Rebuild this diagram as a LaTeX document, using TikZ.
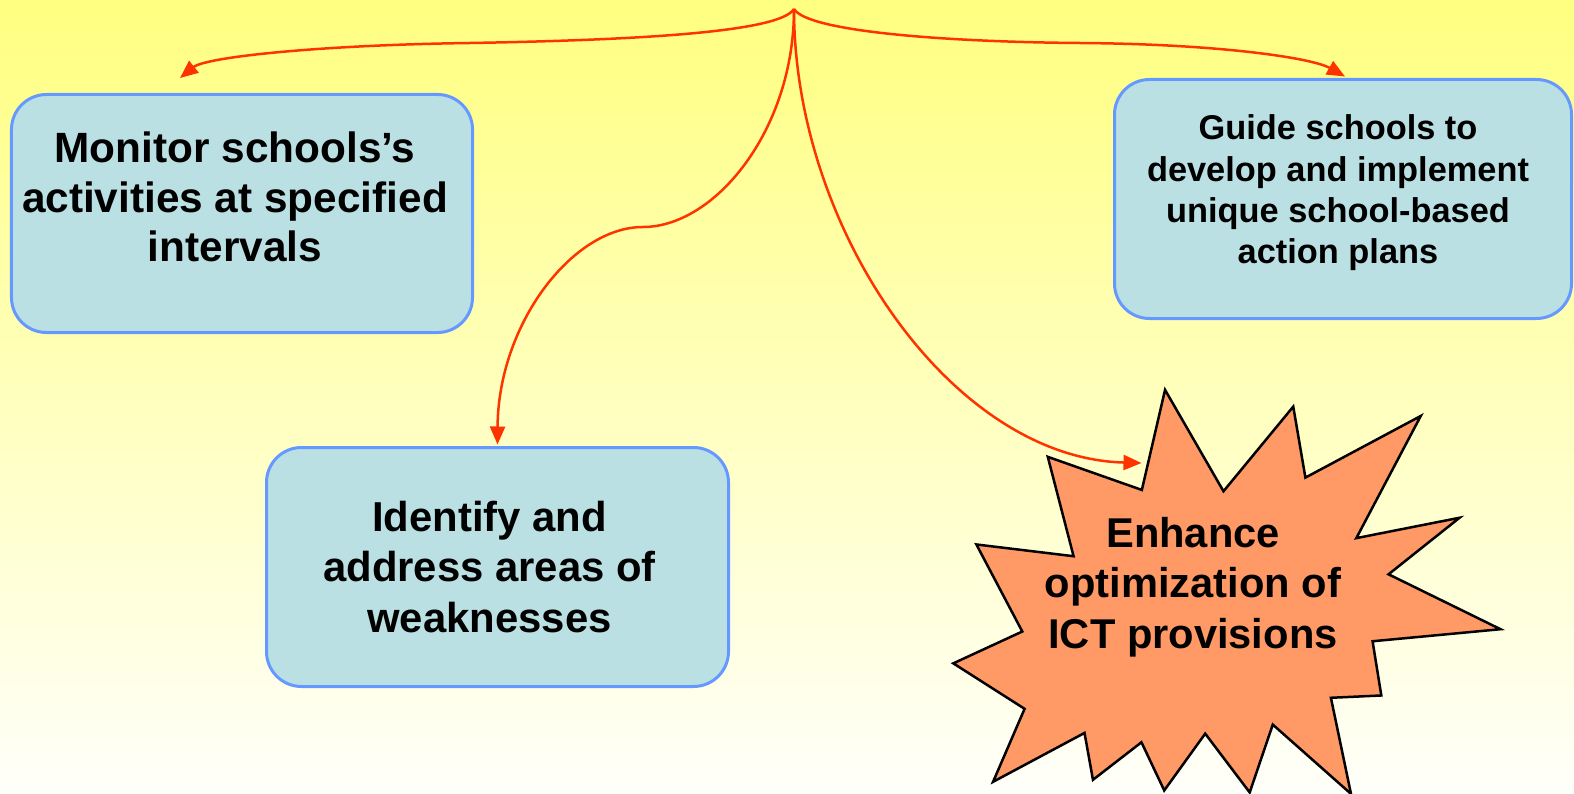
\documentclass[tikz,border=0pt]{standalone}
\usepackage{fontspec}
\setmainfont{Liberation Sans}
\usetikzlibrary{arrows.meta}
\definecolor{boxfill}{RGB}{187,224,227}
\definecolor{boxline}{RGB}{102,153,255}
\definecolor{starfill}{RGB}{255,153,102}
\definecolor{linkred}{RGB}{255,51,0}
\definecolor{bgtop}{RGB}{255,255,128}
\definecolor{bgbot}{RGB}{255,255,250}
\begin{document}
\begin{tikzpicture}[x=1bp,y=-1bp,
  goalbox/.style={draw=boxline, line width=3bp, fill=boxfill, rounded corners=35bp,
                  minimum width=461bp, minimum height=238bp, inner sep=0pt},
  goaltext/.style={align=center, text=black, inner sep=0pt},
  burst/.style={draw=black, line width=2.5bp, fill=starfill, line join=miter},
  link/.style={draw=linkred, line width=2.5bp, -{Triangle[length=18bp,width=15bp]}}]
% background
\useasboundingbox (0,0) rectangle (1574,793);
\fill[top color=bgtop, bottom color=bgbot] (0,0) rectangle (1574,793);

% boxes
\node[goalbox] (b1) at (242,213.5) {};
\node[goalbox, minimum width=457bp, minimum height=239bp] (b2) at (1343,199) {};
\node[goalbox, minimum width=462bp, minimum height=239bp] (b3) at (497.5,567) {};

% star
\begin{scope}[scale=1.004]
\draw[burst] (1160.4,388.3) -- (1218.6,489.3) -- (1288.1,405) -- (1300.2,475.7)
  -- (1415.1,414.3) -- (1350.9,536) -- (1453.7,515.7) -- (1383,572)
  -- (1494.5,626.7) -- (1367.1,638.7) -- (1375.8,692.7) -- (1325.6,695)
  -- (1345.6,790.7) -- (1267.7,721.7) -- (1244.7,789.3) -- (1200.4,730.7)
  -- (1159.6,787.3) -- (1136.9,739.3) -- (1088.6,776.7) -- (1080.2,730)
  -- (989.1,778.7) -- (1020.5,706) -- (949.5,660.7) -- (1018.2,629)
  -- (972.5,542.3) -- (1069.3,554) -- (1043.6,455) -- (1137.3,488) -- cycle;
\end{scope}

% texts
\node[goaltext, font=\fontsize{42.5}{50}\selectfont\bfseries] (t1) at (235,197)
  {Monitor schools’s\\activities at specified\\intervals};
\node[goaltext, font=\fontsize{34.5}{41.5}\selectfont\bfseries] (t2) at (1338,193)
  {Guide schools to\\develop and implement\\unique school-based\\action plans};
\node[goaltext, font=\fontsize{42}{51}\selectfont\bfseries] (t3) at (489.5,567)
  {Identify and\\address areas of\\weaknesses};
\node[goaltext, font=\fontsize{41.8}{50.5}\selectfont\bfseries] (ts) at (1193,587)
  {Enhance\\optimization of\\ICT provisions};

% connectors
\coordinate (root) at (794,9);
\draw[link] (root) .. controls (780,32) and (640,40) .. (470,43)
  .. controls (320,45) and (206,57) .. ([shift={(-62,-15)}]b1.north);
\draw[link] (root) .. controls (808,32) and (950,42) .. (1080,43)
  .. controls (1220,44) and (1312,58) .. ([shift={(2,-1.5)}]b2.north);
\draw[link] (root) .. controls (794,130) and (715,227) .. (643,227)
  .. controls (572,227) and (498,325) .. ([shift={(0,-1.5)}]b3.north);
\draw[link] (root) .. controls (794,230) and (952,458) .. ([shift={(-51.5,-124)}]ts.center);
\end{tikzpicture}
\end{document}
